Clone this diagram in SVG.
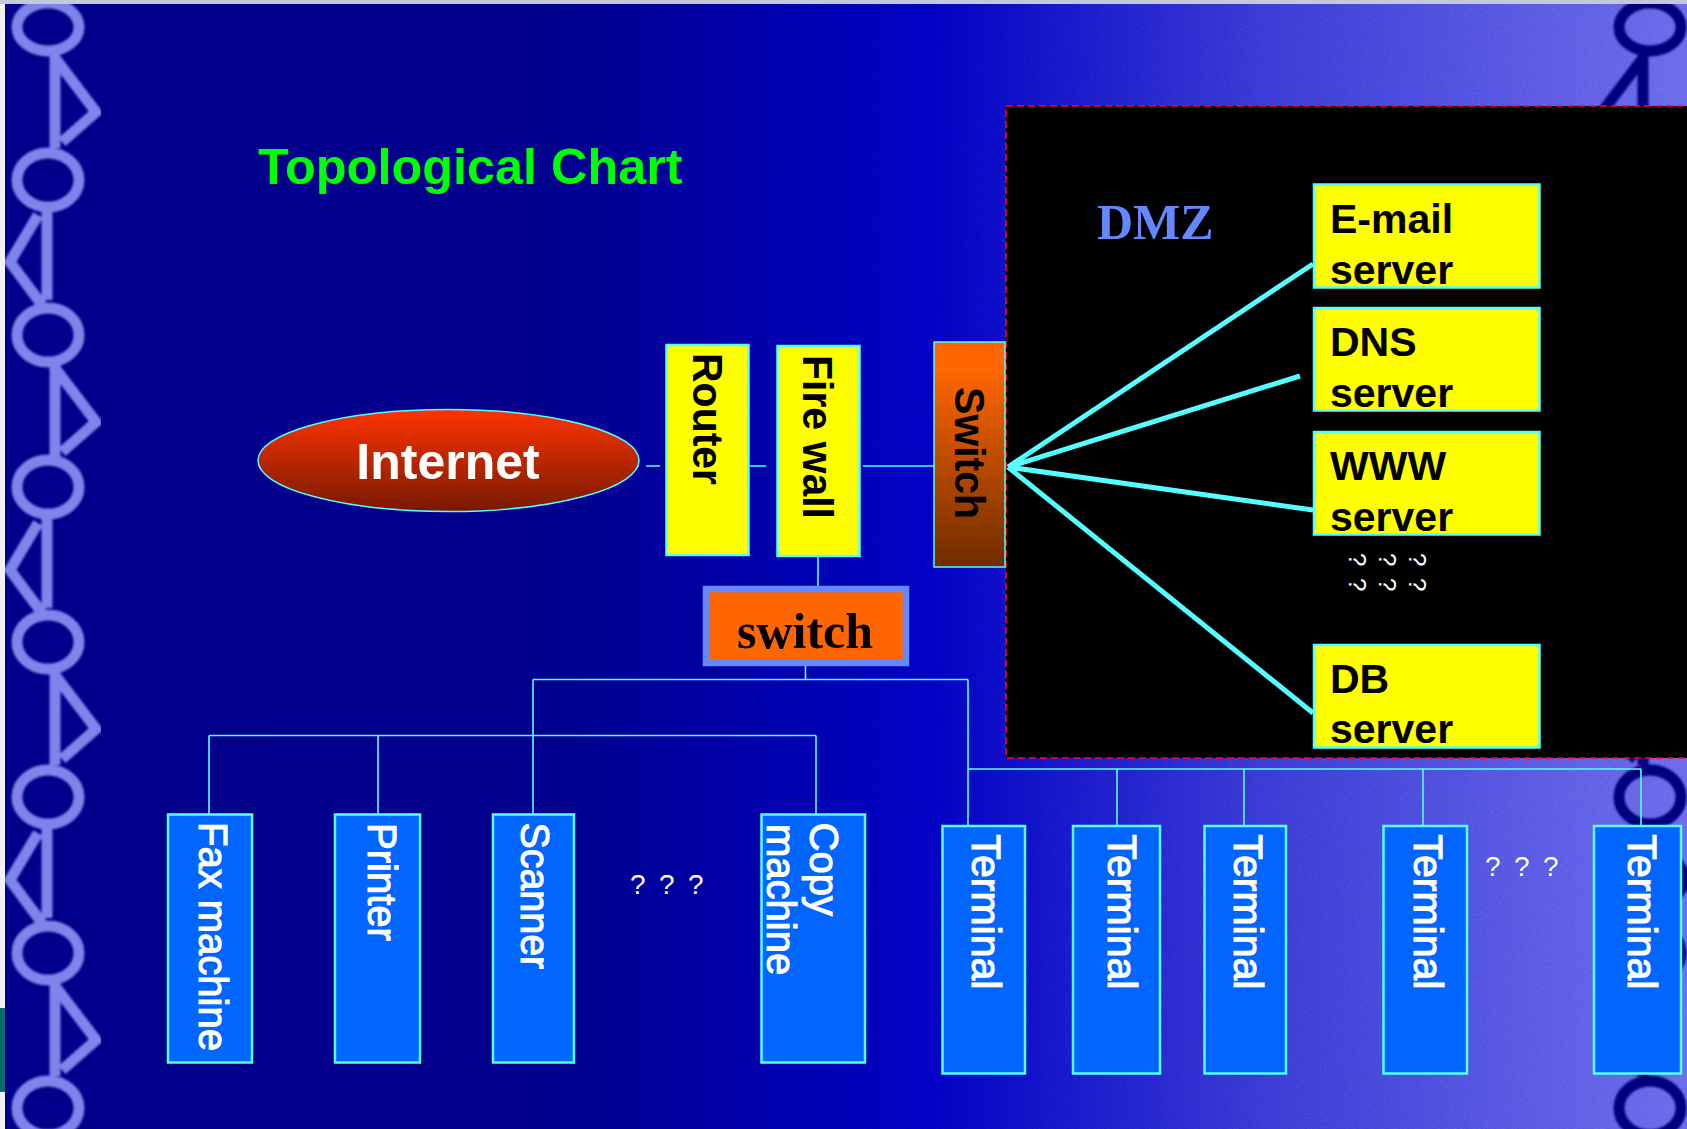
<svg xmlns="http://www.w3.org/2000/svg" xmlns:xlink="http://www.w3.org/1999/xlink" width="1687" height="1129" viewBox="0 0 1687 1129">
<style>
text{font-family:"Liberation Sans",Arial,sans-serif}
.serif{font-family:"Liberation Serif","Times New Roman",serif;font-weight:bold}
.y{fill:#ffff00;stroke:#55ffff;stroke-width:2.5}
.b{fill:#0066ff;stroke:#55ffff;stroke-width:2.5}
.kb{font-size:41px;font-weight:bold;fill:#000}
.wl{font-size:40px;fill:#fff;stroke:#fff;stroke-width:1.1}
.wt{font-size:41px}
.srv{font-size:41px;font-weight:bold;fill:#000}
.q{font-size:28px;fill:#fff;letter-spacing:2.8px}
.q2{font-size:24px;fill:#fff}
.c{fill:none;stroke:#55ffff;stroke-width:1.6}
.f{fill:none;stroke:#55ffff;stroke-width:5}
.deco{fill:none;stroke-width:11}
</style>
<defs>
<linearGradient id="bg" x1="0" y1="0" x2="1" y2="0">
<stop offset="0" stop-color="#00008a"/><stop offset=".33" stop-color="#00008e"/><stop offset=".55" stop-color="#0000c4"/><stop offset=".75" stop-color="#3a3ad6"/><stop offset="1" stop-color="#6c6cec"/>
</linearGradient>
<linearGradient id="oval" x1="0" y1="0" x2="0" y2="1"><stop offset="0" stop-color="#ff3300"/><stop offset="1" stop-color="#771a00"/></linearGradient>
<linearGradient id="sw" x1="0" y1="0" x2="0" y2="1"><stop offset=".12" stop-color="#ff6600"/><stop offset="1" stop-color="#6e2c00"/></linearGradient>
<linearGradient id="fade" gradientUnits="userSpaceOnUse" x1="700" y1="0" x2="1500" y2="0"><stop offset="0" stop-color="#000"/><stop offset="1" stop-color="#fff"/></linearGradient>
<mask id="fadeMask" maskUnits="userSpaceOnUse" x="0" y="0" width="1687" height="1129"><rect width="1687" height="1129" fill="url(#fade)"/></mask>
<filter id="soft" x="-5%" y="-5%" width="110%" height="110%"><feGaussianBlur stdDeviation=".9"/></filter>
<filter id="grain" x="0" y="0" width="100%" height="100%"><feTurbulence type="fractalNoise" baseFrequency=".7" numOctaves="2" seed="4"/><feColorMatrix values="0 0 0 0 .55  0 0 0 0 .55  0 0 0 0 1  1.6 0 0 0 -.7"/></filter>
<g id="chain">
<ellipse cx="48" cy="27" rx="31" ry="24"/><ellipse cx="48" cy="180" rx="31" ry="27"/><ellipse cx="48" cy="335" rx="31" ry="27"/><ellipse cx="48" cy="487" rx="31" ry="27"/><ellipse cx="48" cy="642" rx="31" ry="27"/><ellipse cx="48" cy="797" rx="31" ry="27"/><ellipse cx="48" cy="953" rx="31" ry="27"/><ellipse cx="48" cy="1108" rx="31" ry="27"/>
<path d="M55 55V148M55 58L96 112L62 142"/><path d="M47 210V300M38 215L10 262L42 305"/>
<path d="M55 365V458M55 368L96 422L62 452"/><path d="M47 518V608M38 523L10 570L42 613"/>
<path d="M55 672V765M55 675L96 729L62 759"/><path d="M47 828V918M38 833L10 880L42 923"/>
<path d="M55 983V1076M55 986L96 1040L62 1070"/>
</g>
</defs>
<g id="background">
<rect width="1687" height="1129" fill="url(#bg)"/>
<g mask="url(#fadeMask)"><rect width="1687" height="1129" filter="url(#grain)" opacity=".22"/></g>
<use xlink:href="#chain" class="deco" stroke="#7f83ea" filter="url(#soft)"/>
<use xlink:href="#chain" class="deco" stroke="#00007e" filter="url(#soft)" transform="matrix(-1 0 0 1 1698 0)"/>
<rect width="5" height="1129" fill="#f2f2f6"/>
<rect y="1008" width="5" height="84" fill="#0c6a70"/>
<rect width="1687" height="4" fill="#c4c8dc"/>
</g>
<text x="258" y="184" font-size="50.400" font-weight="bold" fill="#00ff00">Topological Chart</text>
<g id="dmz">
<rect x="1006" y="106" width="690" height="652" fill="#000" stroke="#ff0033" stroke-width="1.6" stroke-dasharray="7 4"/>
<text class="serif" x="1097" y="239" font-size="50" fill="#6688ff">DMZ</text>
</g>
<g id="connectors">
<path class="c" d="M646 466H660M750 466H766M863 466H934M818 556V586M805.500 666V679.500M533 679.500H968M533 679.500V815M968 679.500V826M209 735.500H816M209 735.500V815M378 735.500V815M816 735.500V815M968 769H1641M1117 769V826M1244 769V826M1423 769V826M1641 769V826"/>
<path class="f" d="M1008 467L1313 264M1008 467L1300 376M1008 467L1313 510M1008 467L1313 713"/>
</g>
<g id="internet"><ellipse cx="448.500" cy="460.500" rx="190.500" ry="51" fill="url(#oval)" stroke="#55ffff" stroke-width="1.500"/><text x="448" y="479" font-size="50" font-weight="bold" fill="#fff" text-anchor="middle">Internet</text></g>
<g id="router"><rect class="y" x="666.500" y="345" width="82" height="210"/><text class="kb" transform="translate(692.500 353) rotate(90) scale(1 1.06)">Router</text></g>
<g id="firewall"><rect class="y" x="777.500" y="346" width="82" height="210"/><text class="kb" transform="translate(803 355) rotate(90) scale(1 1.06)">Fire wall</text></g>
<g id="switch-dmz"><rect x="934" y="342" width="71" height="225" fill="url(#sw)" stroke="#55ffff" stroke-width="1.500"/><text class="kb" transform="translate(955 387) rotate(90) scale(1 1.06)">Switch</text></g>
<g id="switch-lan"><rect x="706" y="589" width="200" height="74" fill="#ff6600" stroke="#6688ff" stroke-width="6.500"/><text class="serif" x="805" y="648" font-size="50" fill="#000" text-anchor="middle">switch</text></g>
<g id="email"><rect class="y" x="1314" y="184.500" width="225.500" height="103"/><text class="srv" x="1330" y="233">E-mail</text><text class="srv" x="1330" y="284">server</text></g>
<g id="dns"><rect class="y" x="1314" y="308" width="225.500" height="102.500"/><text class="srv" x="1330" y="356">DNS</text><text class="srv" x="1330" y="407">server</text></g>
<g id="www"><rect class="y" x="1314" y="432" width="225.500" height="102.500"/><text class="srv" x="1330" y="480">WWW</text><text class="srv" x="1330" y="531">server</text></g>
<g id="dots">
<text class="q2" transform="translate(1349 553) rotate(90)">?</text><text class="q2" transform="translate(1379 553) rotate(90)">?</text><text class="q2" transform="translate(1409 553) rotate(90)">?</text>
<text class="q2" transform="translate(1349 578) rotate(90)">?</text><text class="q2" transform="translate(1379 578) rotate(90)">?</text><text class="q2" transform="translate(1409 578) rotate(90)">?</text>
</g>
<g id="db"><rect class="y" x="1314" y="645" width="225.500" height="102.500"/><text class="srv" x="1330" y="693">DB</text><text class="srv" x="1330" y="743">server</text></g>
<g id="fax"><rect class="b" x="168" y="814.500" width="84" height="248"/><text class="wl" transform="translate(199 822) rotate(90)">Fax machine</text></g>
<g id="printer"><rect class="b" x="335" y="814.500" width="85" height="248"/><text class="wl" transform="translate(368 823) rotate(90)">Printer</text></g>
<g id="scanner"><rect class="b" x="493" y="814.500" width="81" height="248"/><text class="wl" transform="translate(521 822.500) rotate(90) scale(.985 1)">Scanner</text></g>
<g id="copier"><rect class="b" x="761.500" y="814.500" width="103.500" height="248"/><text class="wl" transform="translate(810 822.500) rotate(90)">Copy</text><text class="wl" transform="translate(767 824) rotate(90)">machine</text></g>
<text class="q" x="630" y="894">? ? ?</text>
<g id="t1"><rect class="b" x="942.500" y="826" width="82.500" height="247.500"/><text class="wl wt" transform="translate(972 834.500) rotate(90)">Terminal</text></g>
<g id="t2"><rect class="b" x="1073" y="826" width="87" height="247.500"/><text class="wl wt" transform="translate(1108 834.500) rotate(90)">Terminal</text></g>
<g id="t3"><rect class="b" x="1204.500" y="826" width="81.500" height="247.500"/><text class="wl wt" transform="translate(1234 834.500) rotate(90)">Terminal</text></g>
<g id="t4"><rect class="b" x="1383.500" y="826" width="83.500" height="247.500"/><text class="wl wt" transform="translate(1414 834.500) rotate(90)">Terminal</text></g>
<text class="q" x="1485" y="876">? ? ?</text>
<g id="t5"><rect class="b" x="1594" y="826" width="87" height="247.500"/><text class="wl wt" transform="translate(1628 834.500) rotate(90)">Terminal</text></g>
</svg>
